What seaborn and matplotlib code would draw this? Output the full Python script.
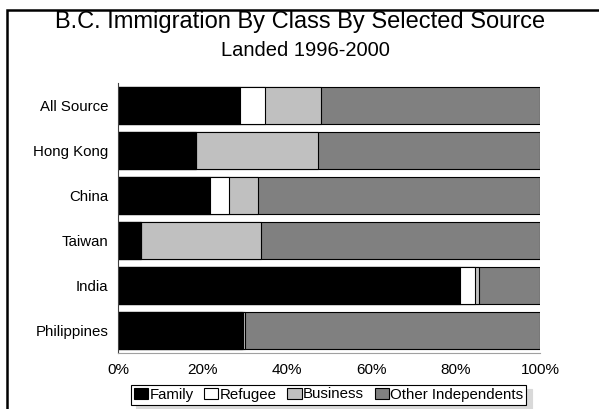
import matplotlib
matplotlib.use("Agg")
import matplotlib.pyplot as plt
import seaborn as sns
import pandas as pd
import numpy as np
from matplotlib.patches import Patch, Rectangle

sources = ["All Source", "Hong Kong", "China", "Taiwan", "India", "Philippines"]
family = [28.8, 18.4, 21.7, 5.4, 81.0, 29.5]
refugee = [6.0, 0.0, 4.5, 0.0, 3.7, 0.1]
business = [13.3, 29.1, 7.0, 28.6, 0.8, 0.6]
other = [51.9, 52.5, 66.8, 66.0, 14.5, 69.8]
classes = ["Family", "Refugee", "Business", "Other Independents"]
colors = ["#000000", "#ffffff", "#c0c0c0", "#808080"]
xticks = [0, 20, 40, 60, 80, 100]
xticklabels = ["0%", "20%", "40%", "60%", "80%", "100%"]

sns.set_theme(style="white")
plt.rcParams["font.family"] = ["Liberation Sans", "DejaVu Sans"]
plt.rcParams["text.color"] = "black"
plt.rcParams["xtick.color"] = "black"
plt.rcParams["ytick.color"] = "black"
plt.rcParams["xtick.labelcolor"] = "black"
plt.rcParams["ytick.labelcolor"] = "black"

df = pd.DataFrame({"Source": sources, "Family": family, "Refugee": refugee,
                   "Business": business, "Other Independents": other})
series = [df[c].to_numpy() for c in classes]
cum = np.cumsum(series, axis=0)
total = cum[-1]
cum = cum / total[None, :] * 100

W, H = 599, 409
fig = plt.figure(figsize=(W / 100, H / 100), dpi=100)
ax = fig.add_axes([118 / W, (H - 353) / H, (540 - 118) / W, (353 - 83) / H])

for i in range(len(classes) - 1, -1, -1):
    d = pd.DataFrame({"Source": sources, "val": cum[i]})
    sns.barplot(data=d, x="val", y="Source", order=sources, color=colors[i],
                saturation=1, width=0.84, edgecolor="#000000", linewidth=0.8,
                ax=ax, orient="h")

ax.set_xlim(0, 100)
ax.set_ylim(5.5, -0.5)
ax.set_xticks(xticks)
ax.set_xticklabels(xticklabels, fontsize=11, color="black")
ax.tick_params(axis="y", labelsize=10.8, length=0, pad=7, labelcolor="black")
ax.tick_params(axis="x", length=0, pad=7, labelcolor="black")
ax.set_xlabel("")
ax.set_ylabel("")
for s in ["top", "right"]:
    ax.spines[s].set_visible(False)
ax.spines["left"].set_color("#404040")
ax.spines["left"].set_linewidth(0.8)
ax.spines["bottom"].set_color("#a0a0a0")
ax.spines["bottom"].set_linewidth(0.8)

# outer frame
fig.patches.append(Rectangle((7 / W, -0.1), 1.2, (H - 10) / H + 0.1, transform=fig.transFigure,
                             fill=False, edgecolor="black", linewidth=1.8))

fig.text(300 / W, 1 - 22 / H, "B.C. Immigration By Class By Selected Source",
         ha="center", va="center", fontsize=17, color="black")
fig.text(305 / W, 1 - 51 / H, "Landed 1996-2000", ha="center", va="center",
         fontsize=14.5, color="black")

handles = [Patch(facecolor=c, edgecolor="black", linewidth=0.8) for c in colors]
leg = fig.legend(handles, classes, loc="center", bbox_to_anchor=(328.5 / W, 1 - 394.5 / H),
                 ncol=4, fontsize=10.8, frameon=True, fancybox=False,
                 handlelength=0.95, handleheight=0.8, handletextpad=0.1,
                 columnspacing=0.7, borderpad=0.2, borderaxespad=0,
                 shadow={"ox": 4, "oy": -3, "color": "#d9d9d9", "alpha": 1})
leg.get_frame().set_edgecolor("black")
leg.get_frame().set_linewidth(0.8)
for t in leg.get_texts():
    t.set_color("black")

fig.savefig("out.png", dpi=100)
